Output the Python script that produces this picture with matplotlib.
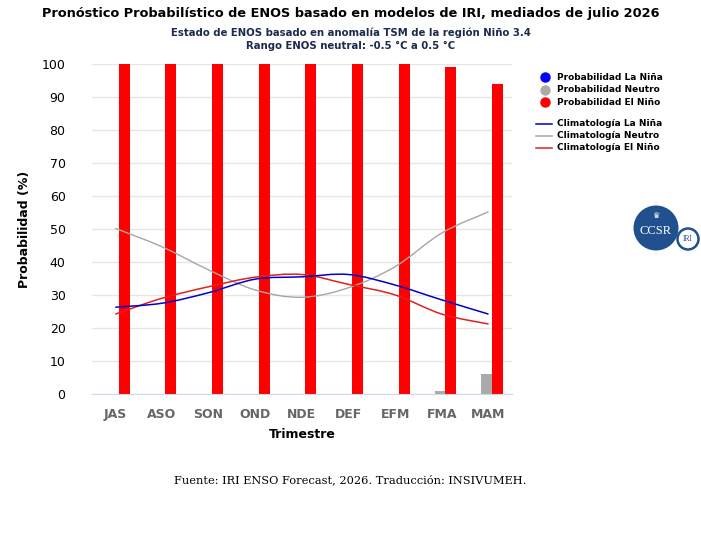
import matplotlib.pyplot as plt
import numpy as np
from matplotlib.path import Path
from matplotlib.patches import PathPatch, Ellipse

# Datos del pronóstico
trimestres = ['JAS', 'ASO', 'SON', 'OND', 'NDE', 'DEF', 'EFM', 'FMA', 'MAM']
prob_nina = [0, 0, 0, 0, 0, 0, 0, 0, 0]
prob_neutro = [0, 0, 0, 0, 0, 0, 0, 1, 6]
prob_nino = [100, 100, 100, 100, 100, 100, 100, 99, 94]

clim_nina = [26.3, 27.5, 30.7, 34.8, 35.5, 36.2, 33.0, 28.5, 24.2]
clim_neutro = [50.2, 44.6, 37.6, 31.5, 29.3, 32.2, 38.6, 48.8, 55.2]
clim_nino = [24.2, 29.0, 32.5, 35.4, 36.2, 33.2, 30.0, 24.2, 21.2]


def spline_path(xs, ys):
    # curva suave tipo Catmull-Rom dibujada con beziers
    xs = np.asarray(xs, float)
    ys = np.asarray(ys, float)
    verts = [(xs[0], ys[0])]
    codes = [Path.MOVETO]
    n = len(xs)
    for i in range(n - 1):
        x0, y0 = (xs[i - 1], ys[i - 1]) if i > 0 else (xs[i], ys[i])
        x3, y3 = (xs[i + 2], ys[i + 2]) if i + 2 < n else (xs[i + 1], ys[i + 1])
        c1 = (xs[i] + (xs[i + 1] - x0) / 6, ys[i] + (ys[i + 1] - y0) / 6)
        c2 = (xs[i + 1] - (x3 - xs[i]) / 6, ys[i + 1] - (y3 - ys[i]) / 6)
        verts += [c1, c2, (xs[i + 1], ys[i + 1])]
        codes += [Path.CURVE4] * 3
    return Path(verts, codes)


W, H = 701, 538
fig = plt.figure(figsize=(W / 100, H / 100), dpi=100)
ax = fig.add_axes([0.1312, 0.2677, 0.599, 0.6134])

x = np.arange(len(trimestres))
w = 0.235
ax.bar(x - 0.27, prob_nina, w, color='#0000ff', zorder=2)
ax.bar(x - 0.04, prob_neutro, w, color='#aaaaaa', zorder=2)
ax.bar(x + 0.19, prob_nino, w, color='#ff0000', zorder=2)

for vals, col, lw in [(clim_neutro, '#a6a6a6', 1.0),
                      (clim_nino, '#e02020', 1.1),
                      (clim_nina, '#0000cc', 1.1)]:
    ax.add_patch(PathPatch(spline_path(x, vals), facecolor='none',
                           edgecolor=col, lw=lw, zorder=3))

ax.set_xlim(-0.5, 8.5)
ax.set_ylim(0, 100)
ax.set_yticks(range(0, 101, 10))
ax.set_xticks(x)
ax.set_xticklabels(trimestres, fontsize=9, fontweight='bold', color='#666666')
ax.tick_params(axis='y', length=0, labelsize=9, pad=19)
ax.tick_params(axis='x', length=0, pad=10)
ax.grid(axis='y', color='#e6e6e6', lw=1, zorder=0)
ax.set_axisbelow(True)
for s in ['top', 'right', 'left']:
    ax.spines[s].set_visible(False)
ax.spines['bottom'].set_color('#ccd6eb')
ax.set_ylabel('Probabilidad (%)', fontsize=9, fontweight='bold', labelpad=8)
ax.set_xlabel('Trimestre', fontsize=9, fontweight='bold', labelpad=5)

# títulos
fig.text(0.5, 0.975, 'Pronóstico Probabilístico de ENOS basado en modelos de IRI, mediados de julio 2026',
         ha='center', va='center', fontsize=9.3, fontweight='bold')
fig.text(0.5, 0.94, 'Estado de ENOS basado en anomalía TSM de la región Niño 3.4',
         ha='center', va='center', fontsize=7.3, fontweight='bold', color='#1c2a4d')
fig.text(0.5, 0.914, 'Rango ENOS neutral: -0.5 °C a 0.5 °C',
         ha='center', va='center', fontsize=7.3, fontweight='bold', color='#1c2a4d')

# leyenda
ley = [('Probabilidad La Niña', '#0000ff', 'o'),
       ('Probabilidad Neutro', '#aaaaaa', 'o'),
       ('Probabilidad El Niño', '#ff0000', 'o'),
       ('Climatología La Niña', '#0000cc', '-'),
       ('Climatología Neutro', '#a6a6a6', '-'),
       ('Climatología El Niño', '#e02020', '-')]
ys_ley = [77, 89.5, 102, 124, 136, 148]
for (lab, col, kind), yp in zip(ley, ys_ley):
    yf = 1 - yp / H
    if kind == 'o':
        fig.lines.append(plt.Line2D([545 / W], [yf], marker='o', ms=6.5, color=col,
                                    transform=fig.transFigure))
    else:
        fig.lines.append(plt.Line2D([536 / W, 552 / W], [yf, yf], color=col, lw=1.1,
                                    transform=fig.transFigure))
    fig.text(557 / W, yf, lab, fontsize=6.5, fontweight='bold', va='center')

# logo CCSR / IRI
fig.patches.append(Ellipse((656 / W, 1 - 228 / H), 45 / W, 45 / H, transform=fig.transFigure,
                           facecolor='#21508f', edgecolor='none'))
fig.patches.append(Ellipse((688 / W, 1 - 239 / H), 21 / W, 21 / H, transform=fig.transFigure,
                           facecolor='white', edgecolor='#21508f', lw=1.8))
fig.text(656 / W, 1 - 231 / H, 'CCSR', fontsize=9, color='white', family='Liberation Serif',
         ha='center', va='center')
fig.text(656 / W, 1 - 215 / H, '♛', fontsize=6, color='white', ha='center', va='center')
fig.text(688 / W, 1 - 239 / H, 'IRI', fontsize=5.5, color='#21508f', family='Liberation Serif',
         ha='center', va='center')

fig.text(0.5, 1 - 480 / H, 'Fuente: IRI ENSO Forecast, 2026. Traducción: INSIVUMEH.',
         ha='center', va='center', fontsize=8.2, family='DejaVu Serif')

fig.savefig('out.png', dpi=100)
